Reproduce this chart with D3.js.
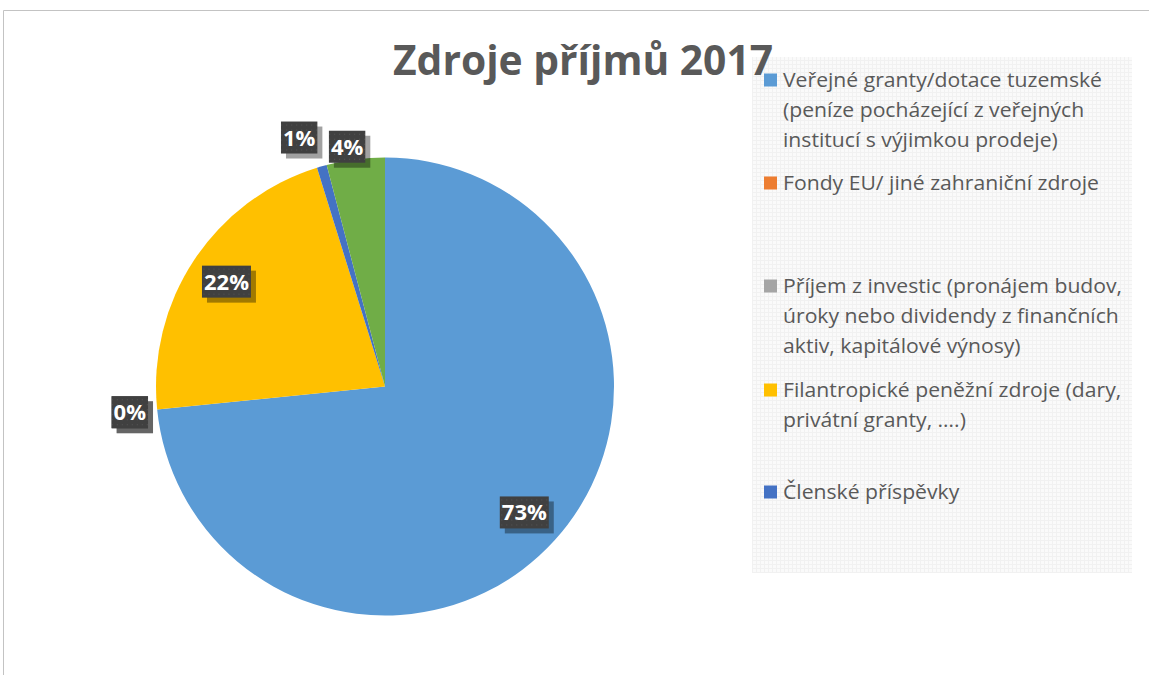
<!DOCTYPE html>
<html>
<head>
<meta charset="utf-8">
<script src="https://cdn.jsdelivr.net/npm/d3@7"></script>
<style>
  body { margin: 0; background: #fff; }
  svg { display: block; }
</style>
</head>
<body>
<script>
const width = 1149;
const height = 675;

// data (share in %)
const categories = [
    "Veřejné granty/dotace tuzemské (peníze pocházející z veřejných institucí s výjimkou prodeje)",
    "Fondy EU/ jiné zahraniční zdroje",
    "Příjem z investic (pronájem budov, úroky nebo dividendy z finančních aktiv, kapitálové výnosy)",
    "Filantropické peněžní zdroje (dary, privátní granty, ….)",
    "Členské příspěvky",
    "Ostatní"
];
const values = [73.4, 0, 0, 21.8, 0.7, 4.1];
const colors = ["#5B9BD5", "#ED7D31", "#A5A5A5", "#FFC000", "#4472C4", "#70AD47"];
// legend wraps the way the original does, the 6th entry is cut off
const legendLines = [
    ["Veřejné granty/dotace tuzemské", "(peníze pocházející z veřejných", "institucí s výjimkou prodeje)"],
    ["Fondy EU/ jiné zahraniční zdroje"],
    ["Příjem z investic (pronájem budov,", "úroky nebo dividendy z finančních", "aktiv, kapitálové výnosy)"],
    ["Filantropické peněžní zdroje (dary,", "privátní granty, ….)"],
    ["Členské příspěvky"]
];
// "best fit" label placement: distance as a share of the radius, small angle nudge in degrees
const labelRadius = [0.82, 1.12, 1.12, 0.83, 1.15, 1.06];
const labelNudge = [0, 0, 0, 0, -3, -1.6];

const svg = d3.select("body").append("svg")
    .attr("width", width)
    .attr("height", height);

const defs = svg.append("defs");

const grid = defs.append("pattern")
    .attr("id", "grid")
    .attr("width", 4).attr("height", 4)
    .attr("patternUnits", "userSpaceOnUse");
grid.append("rect").attr("width", 4).attr("height", 4).attr("fill", "#fafafa");
grid.append("path").attr("d", "M0 0.5H4M0.5 0V4")
    .attr("stroke", "#f1f1f1").attr("stroke-width", 1);

const dots = defs.append("pattern")
    .attr("id", "dots")
    .attr("width", 5).attr("height", 5)
    .attr("patternUnits", "userSpaceOnUse");
dots.append("rect").attr("width", 5).attr("height", 5).attr("fill", "#404040");
dots.append("rect").attr("x", 2).attr("y", 2).attr("width", 1).attr("height", 1).attr("fill", "#555");

// chart frame
svg.append("path")
    .attr("d", "M3.5 675V10.5H1149")
    .attr("fill", "none")
    .attr("stroke", "#c3c3c3")
    .attr("stroke-width", 1);

// legend background
svg.append("rect")
    .attr("x", 752).attr("y", 57)
    .attr("width", 380).attr("height", 516)
    .attr("fill", "url(#grid)");

// title
svg.append("text")
    .attr("x", 393)
    .attr("y", 75)
    .style("font-family", "'Open Sans', sans-serif")
    .style("font-weight", "bold")
    .style("font-size", "42px")
    .attr("fill", "#595959")
    .attr("textLength", 380)
    .attr("lengthAdjust", "spacingAndGlyphs")
    .text("Zdroje příjmů 2017");

// pie
const cx = 385, cy = 386.5, r = 229;

const pie = d3.pie().sort(null).value(d => d);
const arcs = pie(values);
const arc = d3.arc().innerRadius(0).outerRadius(r);

const g = svg.append("g").attr("transform", `translate(${cx},${cy})`);

g.selectAll("path")
    .data(arcs)
    .enter()
    .append("path")
    .attr("d", arc)
    .attr("fill", (d, i) => colors[i]);

const total = d3.sum(values);

const labels = g.selectAll("g.lbl")
    .data(arcs)
    .enter()
    .append("g")
    .attr("class", "lbl")
    .attr("transform", (d, i) => {
        const a = (d.startAngle + d.endAngle) / 2 + labelNudge[i] * Math.PI / 180;
        const rr = r * labelRadius[i];
        return `translate(${Math.sin(a) * rr},${-Math.cos(a) * rr})`;
    });

labels.each(function(d) {
    const el = d3.select(this);
    const txt = Math.round(d.value / total * 100) + "%";
    const t = el.append("text")
        .attr("text-anchor", "middle")
        .attr("y", 8)
        .style("font-family", "'Open Sans', sans-serif")
        .style("font-weight", "bold")
        .style("font-size", "22px")
        .attr("fill", "#fff")
        .text(txt);
    const w = t.node().getComputedTextLength();
    const bw = w + 4, bh = 32;
    el.insert("rect", "text")
        .attr("x", -bw / 2 + 5).attr("y", -bh / 2 + 5)
        .attr("width", bw).attr("height", bh)
        .attr("fill", "#000").attr("fill-opacity", 0.37);
    el.insert("rect", "text")
        .attr("x", -bw / 2).attr("y", -bh / 2)
        .attr("width", bw).attr("height", bh)
        .attr("fill", "url(#dots)");
});

// legend
const legendY = [80, 183, 286, 390, 492];
const lineH = 30;
const legend = svg.append("g");

const items = legend.selectAll("g")
    .data(legendLines)
    .enter()
    .append("g")
    .attr("transform", (d, i) => `translate(764,${legendY[i]})`);

items.append("rect")
    .attr("x", 0).attr("y", -6.5)
    .attr("width", 13).attr("height", 13)
    .attr("fill", (d, i) => colors[i]);

const probe = svg.append("text")
    .style("font-family", "'Open Sans', sans-serif")
    .style("font-size", "20px")
    .text(legendLines[0][0]);
const squeeze = 319 / probe.node().getComputedTextLength();
probe.remove();

items.each(function(lines) {
    const el = d3.select(this);
    lines.forEach((line, j) => {
        const t = el.append("text")
            .attr("x", 19)
            .attr("y", j * lineH + 7)
            .style("font-family", "'Open Sans', sans-serif")
            .style("font-size", "20px")
            .attr("fill", "#595959")
            .text(line);
        t.attr("textLength", t.node().getComputedTextLength() * squeeze)
            .attr("lengthAdjust", "spacingAndGlyphs");
    });
});
</script>
</body>
</html>
